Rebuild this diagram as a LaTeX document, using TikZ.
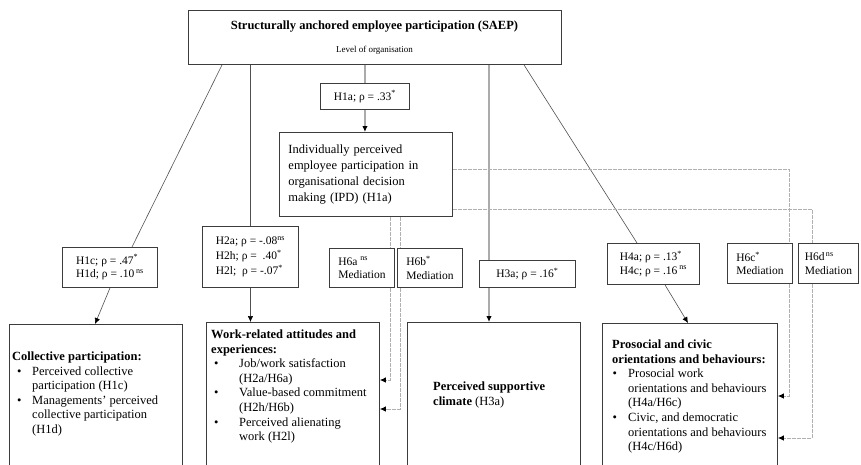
\documentclass[tikz,border=0pt]{standalone}
\usepackage{fontspec}
\setmainfont{Liberation Serif}
\usetikzlibrary{arrows.meta}
\definecolor{boxc}{HTML}{3C3C3C}
\definecolor{thinc}{HTML}{505050}
\definecolor{grayc}{HTML}{ABABAB}
\definecolor{dashc}{HTML}{B0B0B0}
\begin{document}
\begin{tikzpicture}[x=1pt,y=-1pt,
  box/.style={draw=boxc,line width=0.9pt,fill=white,inner sep=0pt,anchor=north west},
  lab/.style={font=\fontsize{11.5}{13.5}\selectfont,align=left},
  body/.style={font=\fontsize{12.5}{14.6}\selectfont,inner sep=0pt,anchor=north west},
  thinln/.style={draw=thinc,line width=0.6pt},
  thickln/.style={draw=grayc,line width=1.6pt},
  med/.style={draw=dashc,line width=0.8pt,dash pattern=on 4pt off 1pt},
  arr/.style={-{Latex[length=6pt,width=5.5pt,color=black]}}]
\clip (0,0) rectangle (861,464);
\fill[white] (0,0) rectangle (861,464);

% boxes
\node[box,minimum width=373pt,minimum height=54pt] (saep) at (188,10) {};
\node[font=\bfseries\fontsize{12.5}{14}\selectfont,inner sep=0pt] (saept) at (374.5,27) {Structurally anchored employee participation (SAEP)};
\node[font=\fontsize{9}{11}\selectfont,inner sep=0pt] (saeps) at (374.5,50) {Level of organisation};

\node[box,lab,minimum width=89pt,minimum height=26pt] (h1a) at (320,83) {H1a; ρ = .33\textsuperscript{*}};
\node[box,minimum width=173pt,minimum height=84pt,align=left,text width=155pt,font=\fontsize{12.5}{16}\selectfont] (ipd) at (279,132) {Individually perceived\\employee participation in\\organisational decision\\making (IPD) (H1a)};

\node[box,lab,minimum width=95pt,minimum height=40pt] (h1) at (62,247) {H1c; ρ = .47\textsuperscript{*}\\H1d; ρ = .10\,\textsuperscript{ns}};
\node[box,lab,minimum width=96pt,minimum height=61pt,font=\fontsize{11.5}{15}\selectfont] (h2) at (202,226) {H2a; ρ = -.08\textsuperscript{ns}\\H2h; ρ = \ .40\textsuperscript{*}\\H2l;\ \ ρ = -.07\textsuperscript{*}};
\node[box,lab,minimum width=65pt,minimum height=39pt] (h6a) at (329,248) {H6a \textsuperscript{ns}\\Mediation};
\node[box,lab,minimum width=65pt,minimum height=39pt] (h6b) at (397,248) {H6b\textsuperscript{*}\\Mediation};
\node[box,lab,minimum width=96pt,minimum height=27pt] (h3) at (479,260) {H3a; ρ = .16\textsuperscript{*}};
\node[box,lab,minimum width=92pt,minimum height=41pt] (h4) at (607,243) {H4a; ρ = .13\textsuperscript{*}\\H4c; ρ = .16\,\textsuperscript{ns}};
\node[box,lab,minimum width=65pt,minimum height=40pt] (h6c) at (727,243) {H6c\textsuperscript{*}\\Mediation};
\node[box,lab,minimum width=60pt,minimum height=40pt] (h6d) at (798,243) {H6d\textsuperscript{\,ns}\\Mediation};

\node[box,minimum width=173pt,minimum height=150pt] (col) at (9,324) {};
\node[box,minimum width=173pt,minimum height=150pt] (work) at (206,322) {};
\node[box,minimum width=173pt,minimum height=150pt] (sup) at (407,322) {};
\node[box,minimum width=175pt,minimum height=150pt] (pro) at (602,323) {};

\node[body] (colt) at (12,350) {\begin{tabular}{@{\hspace{5pt}}p{15pt}@{}l@{}}
\multicolumn{2}{@{}l@{}}{\textbf{Collective participation:}}\\
•&Perceived collective\\
&participation (H1c)\\
•&Managements' perceived\\
&collective participation\\
&(H1d)
\end{tabular}};
\node[body] (workt) at (211,328) {\begin{tabular}{@{\hspace{3pt}}p{25pt}@{}l@{}}
\multicolumn{2}{@{}l@{}}{\textbf{Work-related attitudes and}}\\
\multicolumn{2}{@{}l@{}}{\textbf{experiences:}}\\
•&Job/work satisfaction\\
&(H2a/H6a)\\
•&Value-based commitment\\
&(H2h/H6b)\\
•&Perceived alienating\\
&work (H2l)
\end{tabular}};
\node[body] (supt) at (433,380) {\begin{tabular}{@{}l@{}}
\textbf{Perceived supportive}\\
\textbf{climate} (H3a)
\end{tabular}};
\node[body] (prot) at (612,338) {\begin{tabular}{@{\hspace{0.5pt}}p{15.5pt}@{}l@{}}
\multicolumn{2}{@{}l@{}}{\textbf{Prosocial and civic}}\\
\multicolumn{2}{@{}l@{}}{\textbf{orientations and behaviours:}}\\
•&Prosocial work\\
&orientations and behaviours\\
&(H4a/H6c)\\
•&Civic, and democratic\\
&orientations and behaviours\\
&(H4c/H6d)
\end{tabular}};

% connectors
\draw[thinln] ([xshift=34pt]saep.south west) -- ([xshift=70pt]h1.north west);
\draw[thinln] (saep.south -| h2.north) -- (h2.north);
\draw[thickln] (saep.south -| h1a.north) -- (h1a.north);
\draw[thickln,arr] (h1a.south) -- (h1a.south |- ipd.north);
\coordinate (h3x) at ([xshift=10pt]h3.north west);
\draw[thickln] (saep.south -| h3x) -- (h3x);
\draw[thickln,arr] (h3.south -| h3x) -- (sup.north -| h3x);
\draw[thinln] ([xshift=336pt]saep.south west) -- ([xshift=30pt]h4.north west);
\draw[thinln,arr] ([xshift=58pt]h4.south west) -- ([xshift=86pt]pro.north west);
\draw[thinln,arr] ([xshift=48pt]h1.south west) -- ([xshift=86pt]col.north west);
\draw[thinln,arr] (h2.south) -- (h2.south |- work.north);

% mediation paths
\coordinate (m6a) at ([xshift=61pt]h6a.north west);
\coordinate (m6b) at ([xshift=3pt]h6b.north west);
\coordinate (m6c) at ([xshift=-4pt]h6c.north east);
\coordinate (m6d) at ([xshift=14pt]h6d.north west);
\coordinate (w1) at ([yshift=-58pt]work.north east);
\coordinate (w2) at ([yshift=-87pt]work.north east);
\coordinate (p1) at ([yshift=-73pt]pro.north east);
\coordinate (p2) at ([yshift=-115pt]pro.north east);
\coordinate (i1) at ([yshift=-37pt]ipd.north east);
\coordinate (i2) at ([yshift=-77pt]ipd.north east);
\draw[med] (ipd.south -| m6a) -- (m6a);
\draw[med] (ipd.south -| m6b) -- (m6b);
\draw[med,arr] (h6a.south -| m6a) |- (w1);
\draw[med,arr] (h6b.south -| m6b) |- (w2);
\draw[med] (i1) -| (m6c);
\draw[med] (i2) -| (m6d);
\draw[med,arr] (h6c.south -| m6c) |- (p1);
\draw[med,arr] (h6d.south -| m6d) |- (p2);
\end{tikzpicture}
\end{document}
